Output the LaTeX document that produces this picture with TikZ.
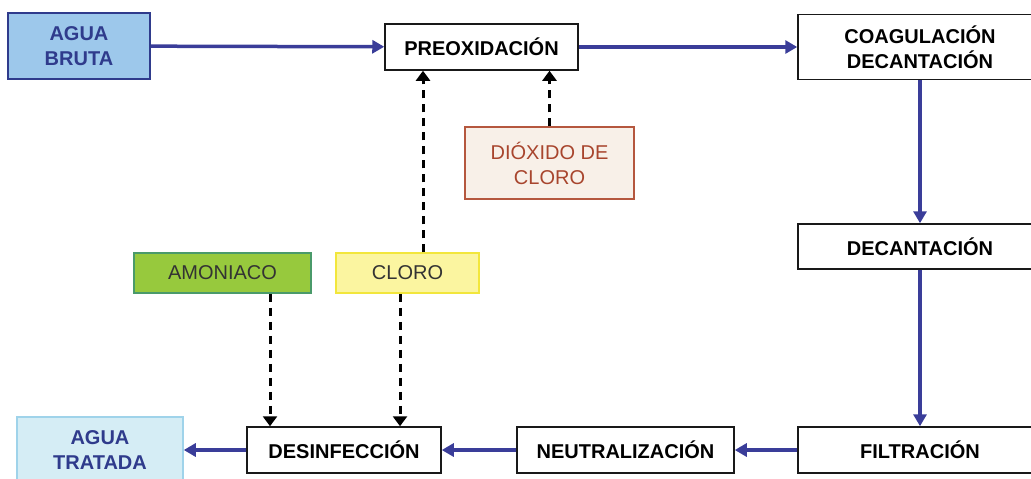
\documentclass[tikz,border=0pt]{standalone}
\usepackage{fontspec}
\setmainfont{Liberation Sans}
\usetikzlibrary{arrows.meta}
\definecolor{flowBlue}{RGB}{58, 61, 153}
\definecolor{inkBlue}{RGB}{47, 59, 140}
\definecolor{rawFill}{RGB}{157, 200, 235}
\definecolor{cleanFill}{RGB}{213, 237, 245}
\definecolor{cleanLine}{RGB}{159, 211, 234}
\definecolor{ammoniaFill}{RGB}{151, 201, 61}
\definecolor{ammoniaLine}{RGB}{74, 154, 106}
\definecolor{chlorineFill}{RGB}{251, 245, 160}
\definecolor{chlorineLine}{RGB}{242, 230, 60}
\definecolor{dioxideFill}{RGB}{248, 240, 232}
\definecolor{dioxideLine}{RGB}{181, 87, 62}
\definecolor{dioxideText}{RGB}{168, 69, 45}

\tikzset{
  stage/.style={draw=black!90, fill=white, line width=0.75pt, inner sep=0pt, align=center,
    font=\fontsize{10}{12.5}\selectfont\bfseries},
  water/.style={draw, line width=0.75pt, inner sep=0pt, align=center, text=inkBlue,
    font=\fontsize{10}{12.5}\selectfont\bfseries},
  reagent/.style={draw, line width=0.75pt, inner sep=0pt, align=center,
    font=\fontsize{10}{12.5}\selectfont},
  flow/.style={-{Triangle[length=6pt,width=6.5pt]}, line width=1.75pt, flowBlue},
  dose/.style={-{Triangle[length=5pt,width=7pt]}, line width=1.5pt, dash pattern=on 4pt off 3pt, black}
}

\begin{document}
\begin{tikzpicture}[x=0.5pt, y=-0.5pt]
\useasboundingbox (0,0) rectangle (1031,478);
\clip (0,0) rectangle (1031,478);

\node[water, fill=rawFill, draw=inkBlue, minimum width=71pt, minimum height=33pt] (bruta) at (79,46) {AGUA\\BRUTA};
\node[stage, minimum width=96.5pt, minimum height=23pt] (preox) at (481.5,47) {PREOXIDACIÓN};
\node[stage, minimum width=122pt, minimum height=32.5pt] (coag) at (920,47) {COAGULACIÓN\\DECANTACIÓN};
\node[stage, minimum width=122pt, minimum height=22.5pt] (decant) at (920,246.5) {DECANTACIÓN};
\node[stage, minimum width=122pt, minimum height=23pt] (filtr) at (920,450) {FILTRACIÓN};
\node[stage, minimum width=108.5pt, minimum height=23pt] (neutr) at (625.5,450) {NEUTRALIZACIÓN};
\node[stage, minimum width=97pt, minimum height=23pt] (desinf) at (344,450) {DESINFECCIÓN};
\node[water, fill=cleanFill, draw=cleanLine, minimum width=83pt, minimum height=33pt] (tratada) at (100,450) {AGUA\\TRATADA};

\node[reagent, fill=dioxideFill, draw=dioxideLine, text=dioxideText, minimum width=84.5pt, minimum height=36pt] (dioxido) at (549.5,163) {DIÓXIDO DE\\CLORO};
\node[reagent, fill=ammoniaFill, draw=ammoniaLine, text=black!80, minimum width=88.5pt, minimum height=20pt] (amoniaco) at (222.5,273) {AMONIACO};
\node[reagent, fill=chlorineFill, draw=chlorineLine, text=black!80, minimum width=71.5pt, minimum height=20pt] (cloro) at (407.5,273) {CLORO};

% main line
\draw[flow] (bruta) -- (preox);
\draw[flow] (preox) -- (coag);
\draw[flow] (coag) -- (decant);
\draw[flow] (decant) -- (filtr);
\draw[flow] (filtr) -- (neutr);
\draw[flow] (neutr) -- (desinf);
\draw[flow] (desinf) -- (tratada);

% dosing
\draw[dose] ([xshift=7.75pt]cloro.north) -- ([xshift=7.75pt]cloro.north |- preox.south);
\draw[dose] (dioxido.north) -- (dioxido.north |- preox.south);
\draw[dose] ([xshift=23.75pt]amoniaco.south) -- ([xshift=23.75pt]amoniaco.south |- desinf.north);
\draw[dose] ([xshift=-3.75pt]cloro.south) -- ([xshift=-3.75pt]cloro.south |- desinf.north);
\end{tikzpicture}
\end{document}
